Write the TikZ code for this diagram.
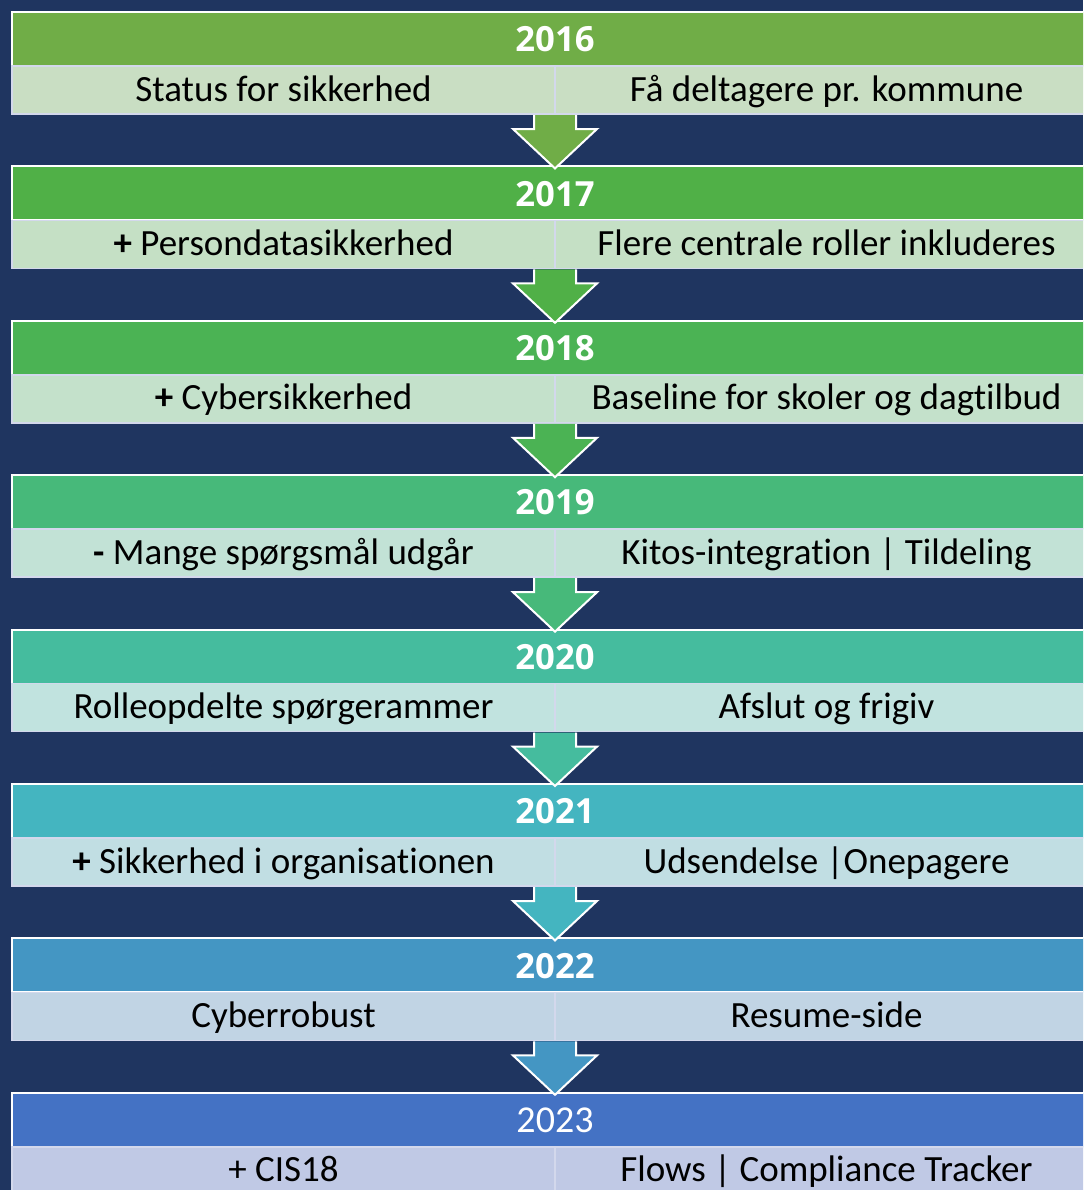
\documentclass[tikz,border=0pt]{standalone}
\usepackage{fontspec}
\setmainfont{Carlito}[Ligatures=NoCommon]
\newfontfamily\yearfont{Open Sans}
\usetikzlibrary{calc}
\definecolor{bg}{HTML}{1F3560}
\definecolor{cellline}{HTML}{D3D8EC}
\definecolor{head2016}{HTML}{70AD47} \definecolor{row2016}{HTML}{C9DEC3}
\definecolor{head2017}{HTML}{50B047} \definecolor{row2017}{HTML}{C5E0C5}
\definecolor{head2018}{HTML}{4BB354} \definecolor{row2018}{HTML}{C4E1CB}
\definecolor{head2019}{HTML}{47B97A} \definecolor{row2019}{HTML}{C2E2D6}
\definecolor{head2020}{HTML}{45BC9E} \definecolor{row2020}{HTML}{C1E3DF}
\definecolor{head2021}{HTML}{44B5C0} \definecolor{row2021}{HTML}{C1DEE3}
\definecolor{head2022}{HTML}{4496C3} \definecolor{row2022}{HTML}{C1D4E4}
\definecolor{head2023}{HTML}{4472C4} \definecolor{row2023}{HTML}{C0C9E5}
\tikzset{
    year box/.style = {
        minimum width=814.5pt,
        minimum height=40.5pt,
        text height=19pt,
        text depth=0pt,
        draw=white,
        line width=1.5pt,
        text=white,
        inner sep=0pt,
        outer sep=0pt,
        anchor=north west,
        font=\yearfont\bfseries\fontsize{26pt}{30pt}\selectfont,
        },
    year plain/.style = {
        font=\fontsize{28.5pt}{32pt}\selectfont,
        },
    cell/.style = {
        minimum width=407.25pt,
        minimum height=36pt,
        text height=22pt,
        text depth=5.5pt,
        draw=cellline,
        line width=1.2pt,
        inner sep=0pt,
        outer sep=0pt,
        anchor=north west,
        font=\fontsize{27.75pt}{32pt}\selectfont,
        },
    step arrow/.style = {
        draw=white,
        line width=1.5pt,
        },
}
\begin{document}
\begin{tikzpicture}[x=0.75pt, y=-0.75pt]
    \useasboundingbox (0,0) rectangle (1083,1190);
    \clip (0,0) rectangle (1083,1190);
    \fill[bg] (0,0) rectangle (1083,1190);

    % 2016
    \node [year box, fill=head2016] (y2016) at (12,12) {2016};
    \node [cell, fill=row2016] (l2016) at (y2016.south west) {Status for sikkerhed};
    \node [cell, fill=row2016] (r2016) at (l2016.north east) {Få deltagere pr. kommune};

    % 2017
    \node [year box, fill=head2017] (y2017) at (12,166.4) {2017};
    \node [cell, fill=row2017] (l2017) at (y2017.south west) {\textbf{+} Persondatasikkerhed};
    \node [cell, fill=row2017] (r2017) at (l2017.north east) {Flere centrale roller inkluderes};

    % 2018
    \node [year box, fill=head2018] (y2018) at (12,320.8) {2018};
    \node [cell, fill=row2018] (l2018) at (y2018.south west) {\textbf{+} Cybersikkerhed};
    \node [cell, fill=row2018] (r2018) at (l2018.north east) {Baseline for skoler og dagtilbud};

    % 2019
    \node [year box, fill=head2019] (y2019) at (12,475.2) {2019};
    \node [cell, fill=row2019] (l2019) at (y2019.south west) {\textbf{-} Mange spørgsmål udgår};
    \node [cell, fill=row2019] (r2019) at (l2019.north east) {Kitos-integrat\kern0pt ion | Tildeling};

    % 2020
    \node [year box, fill=head2020] (y2020) at (12,629.6) {2020};
    \node [cell, fill=row2020] (l2020) at (y2020.south west) {Rolleopdelte spørgerammer};
    \node [cell, fill=row2020] (r2020) at (l2020.north east) {Afslut og frigiv};

    % 2021
    \node [year box, fill=head2021] (y2021) at (12,784) {2021};
    \node [cell, fill=row2021] (l2021) at (y2021.south west) {\textbf{+} Sikkerhed i organisat\kern0pt ionen};
    \node [cell, fill=row2021] (r2021) at (l2021.north east) {Udsendelse |Onepagere};

    % 2022
    \node [year box, fill=head2022] (y2022) at (12,938.4) {2022};
    \node [cell, fill=row2022] (l2022) at (y2022.south west) {Cyberrobust};
    \node [cell, fill=row2022] (r2022) at (l2022.north east) {Resume-side};

    % 2023
    \node [year box, year plain, fill=head2023] (y2023) at (12,1092.8) {2023};
    \node [cell, fill=row2023] (l2023) at (y2023.south west) {+ CIS18};
    \node [cell, fill=row2023] (r2023) at (l2023.north east) {Flows | Compliance Tracker};

    % arrows between the years
    \foreach \a/\b in {2016/2017, 2017/2018, 2018/2019, 2019/2020, 2020/2021, 2021/2022, 2022/2023}{
        \filldraw [step arrow, fill=head\a]
            ($(l\a.south east)+(-21,1)$) -- ++(0,14) -- ++(-21,0)
            -- ($(y\b.north)+(0,2)$)
            -- ($(l\a.south east)+(42,15)$) -- ++(-21,0) -- ++(0,-14);
    }
\end{tikzpicture}
\end{document}
